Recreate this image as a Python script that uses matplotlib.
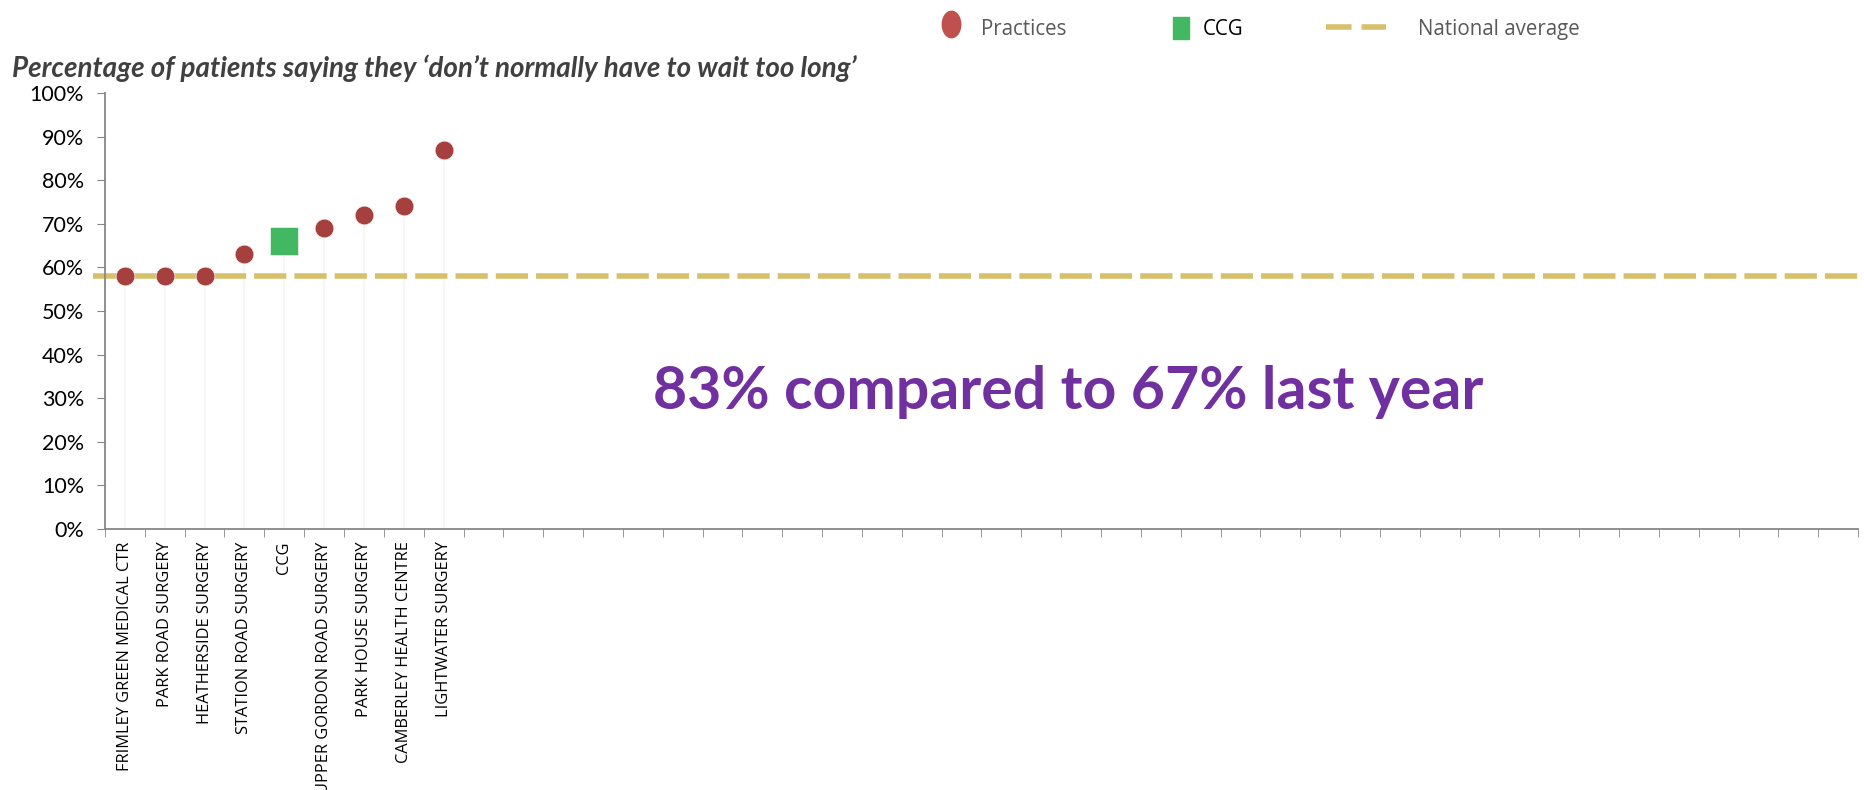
import matplotlib
matplotlib.use("Agg")
import matplotlib.pyplot as plt
from matplotlib.lines import Line2D
from matplotlib.markers import MarkerStyle
from matplotlib.transforms import Affine2D
from matplotlib.ticker import FuncFormatter, MultipleLocator

# data
practices = [
    "FRIMLEY GREEN MEDICAL CTR",
    "PARK ROAD SURGERY",
    "HEATHERSIDE SURGERY",
    "STATION ROAD SURGERY",
    "CCG",
    "UPPER GORDON ROAD SURGERY",
    "PARK HOUSE SURGERY",
    "CAMBERLEY HEALTH CENTRE",
    "LIGHTWATER SURGERY",
]
values = [58, 58, 58, 63, 66, 69, 72, 74, 87]
ccg_name = "CCG"
national_average = 58
n_slots = 44  # the chart keeps room for more practices than are shown

title = "Percentage of patients saying they \u2018don\u2019t normally have to wait too long\u2019"
callout = "83% compared to 67% last year"
legend_labels = ["Practices", "CCG", "National average"]

RED = "#A5403F"
LEG_RED = "#C0504D"
GREEN = "#43B862"
GOLD = "#D6C06B"
AXIS = "#878787"

fig = plt.figure(figsize=(18.64, 7.90), dpi=100)
ax = fig.add_axes([0.0563, 0.3304, 0.9405, 0.5519])

xs = list(range(len(practices)))
prac_x = [x for x, n in zip(xs, practices) if n != ccg_name]
prac_y = [v for v, n in zip(values, practices) if n != ccg_name]
ccg_x = [x for x, n in zip(xs, practices) if n == ccg_name]
ccg_y = [v for v, n in zip(values, practices) if n == ccg_name]

# faint drop lines
ax.vlines(xs, 0, values, color="#f6f6f2", lw=1.2, zorder=1)

ax.axhline(national_average, xmin=-0.007, xmax=1.0, color=GOLD, lw=4,
           dashes=(5.8, 1.45), zorder=2, clip_on=False)
ax.plot(prac_x, prac_y, "o", ms=13.5, color=RED, mec="#fbeeee", mew=0.5, zorder=3)
ax.plot(ccg_x, ccg_y, "s", ms=20.5, color=GREEN, mec="#eef8f0", mew=0.5, zorder=3)

ax.set_xlim(-0.5, n_slots - 0.5)
ax.set_ylim(0, 100)

ax.yaxis.set_major_locator(MultipleLocator(10))
ax.yaxis.set_major_formatter(FuncFormatter(lambda v, p: f"{v:.0f}%"))
ax.tick_params(axis="y", length=6, color=AXIS, labelsize=15.5, pad=9,
               labelcolor="#000000")
for t in ax.get_yticklabels():
    t.set_fontfamily("Lato")

ax.set_xticks(xs)
ax.set_xticklabels(practices, rotation=90, fontsize=11.8, family="Open Sans")
ax.set_xticks([i - 0.5 for i in range(n_slots + 1)], minor=True)
ax.tick_params(axis="x", which="major", length=0, pad=9)
ax.tick_params(axis="x", which="minor", length=6, color=AXIS)

for side in ["top", "right"]:
    ax.spines[side].set_visible(False)
for side in ["left", "bottom"]:
    ax.spines[side].set_color(AXIS)
    ax.spines[side].set_linewidth(1.3)

fig.text(0.0065, 0.914, title, fontsize=20, fontweight="bold", style="italic",
         color="#404040", family="Lato", va="center")

fig.text(0.573, 0.504, callout, fontsize=42.5, fontweight="bold",
         color="#7030A0", family="Lato", ha="center", va="center")

# legend, laid out by hand to match the wide spacing of the original
ly = 0.966
ellipse = MarkerStyle("o", transform=Affine2D().scale(0.7, 1.0))
rect = MarkerStyle("s", transform=Affine2D().scale(0.72, 1.0))
fig.add_artist(Line2D([951 / 1864], [ly + 0.003], marker=ellipse, ms=19,
                      color=LEG_RED, ls="none"))
fig.add_artist(Line2D([1181 / 1864], [ly - 0.002], marker=rect, ms=16.5,
                      color=GREEN, ls="none"))
fig.add_artist(Line2D([1326 / 1864, 1386 / 1864], [ly, ly], color=GOLD, lw=4,
                      dashes=(4.6, 1.8)))
leg_text_x = [981 / 1864, 1203 / 1864, 1418 / 1864]
leg_text_col = ["#595959", "#000000", "#595959"]
for x, s, c in zip(leg_text_x, legend_labels, leg_text_col):
    fig.text(x, ly - 0.003, s, fontsize=14.8, family="Open Sans", color=c,
             va="center", ha="left")

fig.savefig("out.png", dpi=100)
